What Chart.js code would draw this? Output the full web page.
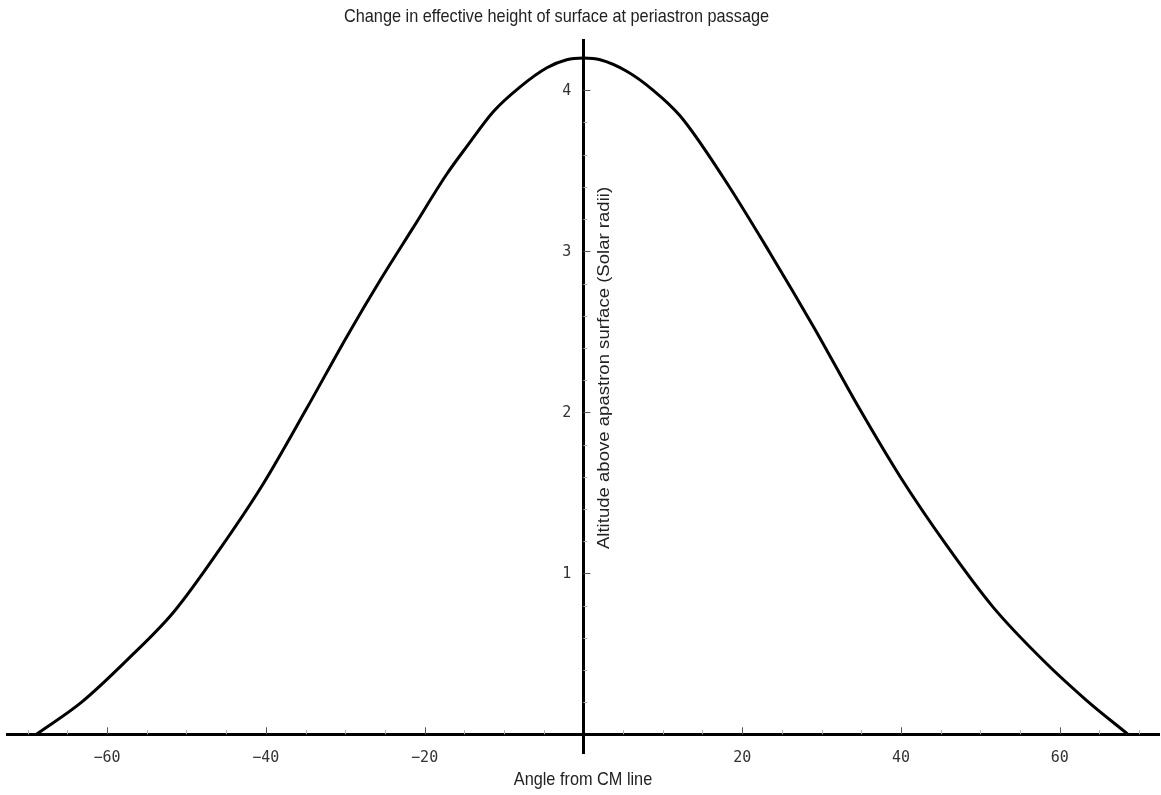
<!DOCTYPE html>
<html>
<head>
<meta charset="utf-8">
<title>Change in effective height of surface at periastron passage</title>
<script src="https://cdn.jsdelivr.net/npm/chart.js@4.4.1/dist/chart.umd.min.js"></script>
<style>
  html, body { margin: 0; padding: 0; background: #fff; }
</style>
</head>
<body>
<canvas id="myChart" width="1161" height="795"></canvas>
<script>
// angle from the CM line (degrees) -> altitude above the apastron surface (solar radii)
const angles = [-68.9, -63.2, -57.3, -51.6, -45.8, -40.4, -34.9, -29.8, -25.6, -21.4, -17.2, -14.7,
  -11.3, -8.0, -4.6, -2.1, 0, 2.1, 5.4, 8.8, 12.2, 17.6, 23.5, 29.0, 34.8, 39.9, 45.8, 51.6, 57.9, 63.4, 68.6];
const altitudes = [0, 0.20, 0.47, 0.76, 1.15, 1.55, 2.02, 2.47, 2.82, 3.15, 3.48, 3.65,
  3.87, 4.02, 4.14, 4.19, 4.20, 4.19, 4.12, 4.00, 3.84, 3.46, 2.99, 2.53, 2.02, 1.60, 1.17, 0.79, 0.46, 0.21, 0];

const xTickValues = [-60, -40, -20, 20, 40, 60];
const yTickValues = [1, 2, 3, 4];

const titleText = 'Change in effective height of surface at periastron passage';
const xAxisLabel = 'Angle from CM line';
const yAxisLabel = 'Altitude above apastron surface (Solar radii)';

const points = angles.map((a, i) => ({ x: a, y: altitudes[i] }));

const tickFont = { family: '"DejaVu Sans Mono", monospace', size: 15 };
const labelFont = '16.3px "Liberation Sans", Arial, sans-serif';

// text is a little taller than wide, so stretch it vertically
function drawLabel(ctx, text, cx, cy, rot) {
  ctx.save();
  ctx.translate(cx, cy);
  ctx.scale(1, 1.14);
  ctx.rotate(rot);
  ctx.font = labelFont;
  ctx.fillStyle = '#222';
  ctx.textAlign = 'center';
  ctx.textBaseline = 'middle';
  ctx.fillText(text, 0, 0);
  ctx.restore();
}

// tick marks point inward from the crossing axes, minor ones lighter
const axisDecor = {
  id: 'axisDecor',
  beforeDatasetsDraw(chart) {
    const { ctx, scales: { x, y } } = chart;
    const x0 = x.getPixelForValue(0);
    const y0 = y.getPixelForValue(0);
    ctx.save();
    ctx.lineWidth = 1;
    for (let v = -70; v <= 70; v += 5) {
      if (v === 0) continue;
      const major = v % 20 === 0;
      const px = Math.round(x.getPixelForValue(v)) + 0.5;
      ctx.strokeStyle = major ? '#555' : '#aaa';
      ctx.beginPath();
      ctx.moveTo(px, y0);
      ctx.lineTo(px, y0 - (major ? 7 : 4));
      ctx.stroke();
    }
    for (let k = 1; k <= 21; k++) {
      const major = k % 5 === 0;
      const py = Math.round(y.getPixelForValue(k / 5)) + 0.5;
      ctx.strokeStyle = major ? '#555' : '#aaa';
      ctx.beginPath();
      ctx.moveTo(x0, py);
      ctx.lineTo(x0 + (major ? 7 : 4), py);
      ctx.stroke();
    }
    // y tick labels sit left of the centred axis
    ctx.fillStyle = '#333';
    ctx.font = tickFont.size + 'px ' + tickFont.family;
    ctx.textAlign = 'right';
    ctx.textBaseline = 'middle';
    yTickValues.forEach(v => ctx.fillText(String(v), x0 - 12, y.getPixelForValue(v) + 1));
    ctx.restore();
  },
  afterDraw(chart) {
    const { ctx, scales: { x } } = chart;
    drawLabel(ctx, titleText, 556.5, 17, 0);
    drawLabel(ctx, xAxisLabel, 583, 780, 0);
    drawLabel(ctx, yAxisLabel, x.getPixelForValue(0) + 21, 368, -Math.PI / 2);
  }
};

const ctx = document.getElementById('myChart').getContext('2d');
const chart = new Chart(ctx, {
  type: 'line',
  data: {
    datasets: [{
      data: points,
      borderColor: '#000',
      borderWidth: 3,
      pointRadius: 0,
      fill: false,
      cubicInterpolationMode: 'monotone'
    }]
  },
  options: {
    responsive: false,
    animation: false,
    layout: { padding: { top: 40.7, bottom: 42, left: 7, right: 2 } },
    plugins: {
      legend: { display: false },
      tooltip: { enabled: false }
    },
    scales: {
      x: {
        type: 'linear',
        min: -72.6,
        max: 72.5,
        position: { y: 0 },
        afterBuildTicks: s => { s.ticks = xTickValues.map(v => ({ value: v })); },
        grid: { drawOnChartArea: false, drawTicks: false },
        border: { color: '#000', width: 3 },
        ticks: {
          color: '#333',
          font: tickFont,
          padding: 15,
          maxRotation: 0,
          autoSkip: false,
          callback: v => (v < 0 ? '\u2212' : '') + Math.abs(v)
        }
      },
      y: {
        type: 'linear',
        min: -0.116,
        max: 4.308,
        position: { x: 0 },
        afterBuildTicks: s => { s.ticks = yTickValues.map(v => ({ value: v })); },
        grid: { drawOnChartArea: false, drawTicks: false },
        border: { color: '#000', width: 3 },
        ticks: { display: false }
      }
    }
  },
  plugins: [axisDecor]
});
</script>
</body>
</html>
